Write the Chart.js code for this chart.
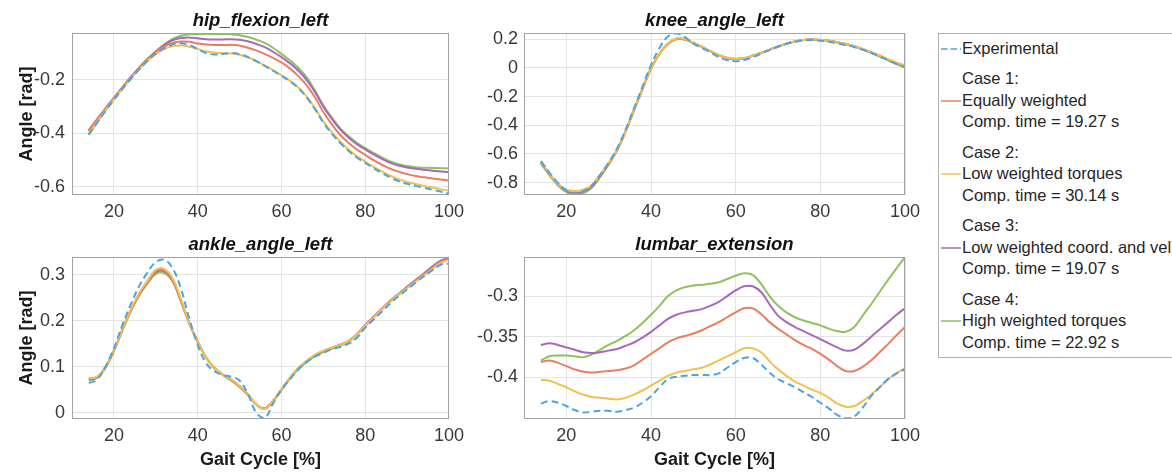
<!DOCTYPE html>
<html><head><meta charset="utf-8">
<script src="https://cdn.jsdelivr.net/npm/chart.js@4.4.1/dist/chart.umd.min.js"></script>
<style>
html,body{margin:0;padding:0;background:#fff;}
body{width:1172px;height:474px;overflow:hidden;position:relative;font-family:"Liberation Sans",Arial,Helvetica,sans-serif;}
.pane{position:absolute;}
.pane canvas{display:block;}
#legend{position:absolute;left:938px;top:33px;width:270px;border:1px solid #b0b0b0;box-sizing:border-box;padding:3.5px 0 3.5px 23px;font-size:16.5px;color:#262626;background:#fff;}
.ln{position:relative;height:21.5px;line-height:21.5px;white-space:nowrap;}
.grp{margin-top:9px;}
.ln svg{position:absolute;left:-21px;top:9px;}
</style></head>
<body>
<div class="pane" style="left:0;top:0;"><canvas id="hip" width="470" height="220"></canvas></div>
<div class="pane" style="left:460px;top:0;"><canvas id="knee" width="470" height="220"></canvas></div>
<div class="pane" style="left:0;top:224px;"><canvas id="ankle" width="470" height="250"></canvas></div>
<div class="pane" style="left:460px;top:224px;"><canvas id="lumbar" width="470" height="250"></canvas></div>
<div id="legend"></div>
<script>
// ---- data ----
const gaitCycle = [14,16,18,20,22,24,26,28,30,32,34,36,38,40,42,44,46,48,50,52,54,56,58,60,62,64,66,68,70,72,74,76,78,80,82,84,86,88,90,92,94,96,98,100];

const seriesNames = ['Experimental','Case 1','Case 2','Case 3','Case 4'];
const legendLines = [
  ['Experimental'],
  ['Case 1:','Equally weighted','Comp. time = 19.27 s'],
  ['Case 2:','Low weighted torques','Comp. time = 30.14 s'],
  ['Case 3:','Low weighted coord. and vel','Comp. time = 19.07 s'],
  ['Case 4:','High weighted torques','Comp. time = 22.92 s']
];
const subplotTitles = ['hip_flexion_left','knee_angle_left','ankle_angle_left','lumbar_extension'];
const yAxisTitle = 'Angle [rad]';
const xAxisTitle = 'Gait Cycle [%]';

const xTicks = [20,40,60,80,100];
const xTickLabels = ['20','40','60','80','100'];

const hipTicks = [-0.6,-0.4,-0.2];
const hipTickLabels = ['-0.6','-0.4','-0.2'];
const kneeTicks = [-0.8,-0.6,-0.4,-0.2,0,0.2];
const kneeTickLabels = ['-0.8','-0.6','-0.4','-0.2','0','0.2'];
const ankleTicks = [0,0.1,0.2,0.3];
const ankleTickLabels = ['0','0.1','0.2','0.3'];
const lumbarTicks = [-0.4,-0.35,-0.3];
const lumbarTickLabels = ['-0.4','-0.35','-0.3'];

const hipExperimental = [-0.405,-0.36,-0.316,-0.275,-0.235,-0.197,-0.162,-0.13,-0.102,-0.082,-0.068,-0.063,-0.07,-0.085,-0.1,-0.105,-0.103,-0.1,-0.104,-0.115,-0.13,-0.148,-0.166,-0.185,-0.205,-0.23,-0.265,-0.31,-0.36,-0.4,-0.435,-0.465,-0.49,-0.51,-0.53,-0.548,-0.565,-0.578,-0.588,-0.596,-0.603,-0.61,-0.617,-0.625];
const hipCase1 = [-0.392,-0.35,-0.309,-0.27,-0.231,-0.194,-0.159,-0.127,-0.097,-0.076,-0.062,-0.057,-0.058,-0.064,-0.068,-0.07,-0.07,-0.069,-0.072,-0.08,-0.09,-0.103,-0.118,-0.135,-0.157,-0.185,-0.22,-0.265,-0.32,-0.365,-0.405,-0.435,-0.46,-0.48,-0.5,-0.517,-0.532,-0.543,-0.552,-0.559,-0.564,-0.568,-0.572,-0.576];
const hipCase2 = [-0.4,-0.357,-0.314,-0.274,-0.234,-0.196,-0.161,-0.13,-0.103,-0.085,-0.075,-0.072,-0.076,-0.085,-0.093,-0.098,-0.1,-0.102,-0.106,-0.116,-0.13,-0.146,-0.164,-0.183,-0.203,-0.228,-0.262,-0.305,-0.355,-0.395,-0.43,-0.46,-0.485,-0.505,-0.525,-0.542,-0.558,-0.571,-0.581,-0.589,-0.596,-0.602,-0.608,-0.614];
const hipCase3 = [-0.388,-0.347,-0.306,-0.267,-0.228,-0.19,-0.155,-0.123,-0.094,-0.07,-0.052,-0.044,-0.042,-0.045,-0.048,-0.049,-0.049,-0.048,-0.05,-0.056,-0.066,-0.078,-0.095,-0.115,-0.138,-0.165,-0.2,-0.245,-0.3,-0.345,-0.385,-0.415,-0.44,-0.46,-0.478,-0.495,-0.51,-0.52,-0.527,-0.532,-0.536,-0.539,-0.542,-0.545];
const hipCase4 = [-0.405,-0.358,-0.313,-0.271,-0.23,-0.191,-0.155,-0.122,-0.094,-0.068,-0.047,-0.035,-0.03,-0.029,-0.029,-0.029,-0.029,-0.03,-0.033,-0.04,-0.05,-0.062,-0.08,-0.103,-0.127,-0.155,-0.19,-0.24,-0.295,-0.34,-0.38,-0.41,-0.435,-0.455,-0.473,-0.49,-0.505,-0.515,-0.522,-0.526,-0.528,-0.529,-0.53,-0.531];

const kneeExperimental = [-0.65,-0.73,-0.8,-0.855,-0.875,-0.86,-0.82,-0.745,-0.66,-0.56,-0.43,-0.28,-0.13,0.02,0.14,0.22,0.24,0.215,0.17,0.14,0.11,0.075,0.055,0.047,0.055,0.075,0.1,0.125,0.148,0.168,0.183,0.192,0.195,0.19,0.183,0.172,0.16,0.146,0.128,0.106,0.08,0.055,0.028,0.005];
const kneeCase1 = [-0.655,-0.74,-0.81,-0.85,-0.86,-0.85,-0.82,-0.745,-0.665,-0.57,-0.44,-0.29,-0.145,0.0,0.1,0.17,0.205,0.2,0.175,0.148,0.118,0.09,0.07,0.063,0.068,0.085,0.105,0.128,0.15,0.17,0.185,0.195,0.198,0.196,0.19,0.18,0.168,0.152,0.132,0.11,0.085,0.06,0.035,0.015];
const kneeCase2 = [-0.65,-0.737,-0.808,-0.849,-0.86,-0.849,-0.818,-0.744,-0.664,-0.57,-0.44,-0.29,-0.145,0.0,0.1,0.17,0.205,0.201,0.176,0.149,0.119,0.091,0.071,0.064,0.069,0.085,0.105,0.128,0.15,0.17,0.185,0.195,0.198,0.196,0.19,0.18,0.168,0.153,0.133,0.111,0.087,0.062,0.037,0.018];
const kneeCase3 = [-0.66,-0.742,-0.812,-0.857,-0.872,-0.862,-0.828,-0.752,-0.67,-0.572,-0.442,-0.292,-0.146,-0.002,0.1,0.169,0.203,0.199,0.175,0.148,0.118,0.09,0.07,0.063,0.068,0.085,0.105,0.128,0.15,0.17,0.185,0.195,0.198,0.196,0.19,0.18,0.167,0.151,0.131,0.108,0.083,0.057,0.032,0.01];
const kneeCase4 = [-0.665,-0.748,-0.818,-0.866,-0.885,-0.875,-0.836,-0.76,-0.675,-0.575,-0.445,-0.295,-0.148,-0.005,0.098,0.167,0.2,0.198,0.174,0.147,0.117,0.09,0.07,0.063,0.068,0.085,0.105,0.128,0.15,0.17,0.185,0.195,0.198,0.196,0.19,0.179,0.166,0.15,0.129,0.106,0.08,0.054,0.028,0.005];

const ankleExperimental = [0.064,0.072,0.1,0.14,0.19,0.235,0.275,0.305,0.328,0.333,0.315,0.27,0.205,0.148,0.108,0.09,0.082,0.078,0.07,0.04,0.0,-0.012,0.02,0.05,0.072,0.094,0.11,0.122,0.13,0.138,0.143,0.15,0.163,0.185,0.203,0.22,0.238,0.254,0.268,0.283,0.297,0.31,0.322,0.325];
const ankleCase1 = [0.074,0.078,0.1,0.135,0.18,0.222,0.258,0.285,0.309,0.31,0.29,0.245,0.195,0.155,0.12,0.097,0.083,0.072,0.058,0.04,0.018,0.008,0.025,0.05,0.075,0.096,0.112,0.125,0.134,0.141,0.147,0.155,0.17,0.19,0.208,0.226,0.243,0.258,0.272,0.287,0.3,0.315,0.328,0.335];
const ankleCase2 = [0.075,0.078,0.1,0.136,0.181,0.224,0.26,0.287,0.311,0.313,0.293,0.247,0.196,0.155,0.12,0.097,0.083,0.072,0.058,0.04,0.018,0.008,0.026,0.051,0.076,0.097,0.113,0.126,0.135,0.141,0.147,0.155,0.17,0.19,0.207,0.225,0.242,0.257,0.271,0.285,0.299,0.313,0.326,0.333];
const ankleCase3 = [0.072,0.077,0.099,0.135,0.18,0.222,0.257,0.284,0.306,0.308,0.289,0.244,0.195,0.155,0.12,0.097,0.083,0.071,0.057,0.039,0.018,0.009,0.026,0.05,0.075,0.096,0.112,0.125,0.134,0.141,0.148,0.156,0.171,0.191,0.209,0.227,0.244,0.259,0.274,0.289,0.303,0.318,0.331,0.337];
const ankleCase4 = [0.07,0.076,0.098,0.134,0.178,0.22,0.255,0.281,0.302,0.304,0.286,0.242,0.194,0.154,0.12,0.097,0.082,0.07,0.056,0.038,0.017,0.009,0.025,0.049,0.074,0.095,0.11,0.123,0.132,0.139,0.146,0.154,0.169,0.189,0.207,0.225,0.242,0.257,0.272,0.286,0.3,0.314,0.327,0.334];

const lumbarExperimental = [-0.432,-0.429,-0.431,-0.435,-0.44,-0.443,-0.442,-0.441,-0.441,-0.442,-0.44,-0.437,-0.431,-0.423,-0.412,-0.402,-0.399,-0.398,-0.397,-0.397,-0.397,-0.395,-0.388,-0.381,-0.376,-0.376,-0.384,-0.394,-0.402,-0.407,-0.412,-0.418,-0.424,-0.431,-0.438,-0.446,-0.45,-0.448,-0.437,-0.423,-0.412,-0.402,-0.395,-0.39];
const lumbarCase1 = [-0.381,-0.379,-0.382,-0.386,-0.39,-0.393,-0.394,-0.393,-0.392,-0.391,-0.389,-0.385,-0.378,-0.371,-0.364,-0.357,-0.352,-0.349,-0.346,-0.342,-0.337,-0.332,-0.326,-0.32,-0.315,-0.315,-0.322,-0.332,-0.34,-0.347,-0.354,-0.36,-0.365,-0.371,-0.378,-0.386,-0.392,-0.392,-0.387,-0.379,-0.369,-0.359,-0.348,-0.338];
const lumbarCase2 = [-0.403,-0.404,-0.408,-0.412,-0.417,-0.421,-0.424,-0.425,-0.426,-0.427,-0.425,-0.421,-0.416,-0.41,-0.404,-0.398,-0.394,-0.392,-0.39,-0.388,-0.384,-0.379,-0.374,-0.369,-0.364,-0.364,-0.369,-0.38,-0.39,-0.398,-0.405,-0.41,-0.415,-0.419,-0.425,-0.432,-0.436,-0.435,-0.429,-0.421,-0.412,-0.402,-0.395,-0.388];
const lumbarCase3 = [-0.36,-0.358,-0.36,-0.363,-0.366,-0.369,-0.37,-0.369,-0.367,-0.365,-0.361,-0.357,-0.351,-0.344,-0.336,-0.328,-0.323,-0.32,-0.318,-0.316,-0.312,-0.307,-0.3,-0.293,-0.288,-0.288,-0.295,-0.31,-0.324,-0.332,-0.338,-0.343,-0.348,-0.353,-0.358,-0.363,-0.367,-0.366,-0.359,-0.35,-0.341,-0.332,-0.323,-0.315];
const lumbarCase4 = [-0.379,-0.374,-0.373,-0.373,-0.374,-0.375,-0.372,-0.366,-0.36,-0.355,-0.349,-0.342,-0.333,-0.323,-0.312,-0.3,-0.293,-0.289,-0.287,-0.286,-0.285,-0.283,-0.279,-0.275,-0.272,-0.274,-0.285,-0.3,-0.312,-0.32,-0.326,-0.33,-0.333,-0.336,-0.34,-0.343,-0.344,-0.338,-0.324,-0.31,-0.295,-0.28,-0.266,-0.252];

// ---- styling ----
const colors = ['#4aa5e0','#eb7d5e','#f3c04f','#a768be','#8ec25a'];
const dashes = [[7,4],[],[],[],[]];
const drawOrder = [0,2,1,3,4]; // lower = on top
const FONT = '"Liberation Sans", Arial, Helvetica, sans-serif';

const framePlugin = {
  id:'frame',
  afterDatasetsDraw(chart){
    const a = chart.chartArea, c = chart.ctx;
    c.save();
    c.strokeStyle = '#a3a3a3';
    c.lineWidth = 1;
    c.strokeRect(Math.round(a.left)+0.5, Math.round(a.top)+0.5, Math.round(a.right-a.left)-1, Math.round(a.bottom-a.top)-1);
    c.restore();
  }
};

function makeChart(id, title, series, ticks, tickLabels, yMin, yMax, o){
  const datasets = series.map((vals, k) => ({
    label: seriesNames[k],
    data: gaitCycle.map((x, i) => ({x: x, y: vals[i]})),
    borderColor: colors[k],
    borderWidth: 2,
    borderDash: dashes[k],
    pointRadius: 0,
    tension: 0.4,
    fill: false,
    order: drawOrder[k]
  }));
  return new Chart(document.getElementById(id), {
    type: 'line',
    data: {datasets},
    options: {
      responsive: false, animation: false, devicePixelRatio: 1,
      layout: {padding: {left: 0, right: o.padRight, top: 0, bottom: 0}},
      plugins: {
        legend: {display: false}, tooltip: {enabled: false},
        title: {display: true, text: title, fullSize: false, color: '#111',
          font: {family: FONT, size: 18.5, weight: 'bold', style: 'italic', lineHeight: 1.2},
          padding: {top: 10, bottom: 0.8}}
      },
      scales: {
        x: {
          type: 'linear', min: 10, max: 100,
          afterBuildTicks: s => { s.ticks = xTicks.map(v => ({value: v})); },
          afterFit: s => { s.height = o.xHeight; },
          ticks: {callback: (v, i) => xTickLabels[i], color: '#383838', padding: 6, maxRotation: 0, autoSkip: false,
            font: {family: FONT, size: 18}},
          grid: {color: '#e4e4e4', drawTicks: false, lineWidth: 1},
          border: {display: false},
          title: {display: o.xTitle, text: xAxisTitle, color: '#1a1a1a', padding: {top: 0, bottom: 3.2},
            font: {family: FONT, size: 18, weight: 'bold', lineHeight: 1.2}}
        },
        y: {
          min: yMin, max: yMax,
          afterBuildTicks: s => { s.ticks = ticks.map(v => ({value: v})); },
          afterFit: s => { s.width = o.yWidth; },
          ticks: {callback: (v, i) => tickLabels[i], color: '#383838', padding: o.yPad, autoSkip: false,
            font: {family: FONT, size: 18}},
          grid: {color: '#e4e4e4', drawTicks: false, lineWidth: 1},
          border: {display: false},
          title: {display: o.yTitle, text: yAxisTitle, color: '#1a1a1a', padding: {top: 16, bottom: 0},
            font: {family: FONT, size: 18, weight: 'bold', lineHeight: 1.2}}
        }
      }
    },
    plugins: [framePlugin]
  });
}

makeChart('hip', subplotTitles[0], [hipExperimental, hipCase1, hipCase2, hipCase3, hipCase4],
  hipTicks, hipTickLabels, -0.63, -0.025, {padRight: 20, yWidth: 72, yPad: 7, xHeight: 25, xTitle: false, yTitle: true});
makeChart('knee', subplotTitles[1], [kneeExperimental, kneeCase1, kneeCase2, kneeCase3, kneeCase4],
  kneeTicks, kneeTickLabels, -0.886, 0.244, {padRight: 25, yWidth: 64, yPad: 6, xHeight: 25, xTitle: false, yTitle: false});
makeChart('ankle', subplotTitles[2], [ankleExperimental, ankleCase1, ankleCase2, ankleCase3, ankleCase4],
  ankleTicks, ankleTickLabels, -0.014, 0.339, {padRight: 20, yWidth: 72, yPad: 7, xHeight: 55, xTitle: true, yTitle: true});
makeChart('lumbar', subplotTitles[3], [lumbarExperimental, lumbarCase1, lumbarCase2, lumbarCase3, lumbarCase4],
  lumbarTicks, lumbarTickLabels, -0.451, -0.252, {padRight: 25, yWidth: 64, yPad: 6, xHeight: 55, xTitle: true, yTitle: false});

// ---- legend (HTML) ----
const legend = document.getElementById('legend');
legendLines.forEach((lines, k) => {
  const grp = document.createElement('div');
  if (k > 0) grp.className = 'grp';
  const sampleRow = lines.length === 1 ? 0 : 1;
  lines.forEach((t, r) => {
    const ln = document.createElement('div');
    ln.className = 'ln';
    if (r === sampleRow) {
      const dash = dashes[k].length ? 'stroke-dasharray="6.5 3"' : '';
      ln.innerHTML = '<svg width="20" height="4"><line x1="0" y1="2" x2="20" y2="2" stroke="' + colors[k] + '" stroke-width="1.5" ' + dash + '/></svg>';
    }
    ln.appendChild(document.createTextNode(t));
    grp.appendChild(ln);
  });
  legend.appendChild(grp);
});
</script>
</body></html>
